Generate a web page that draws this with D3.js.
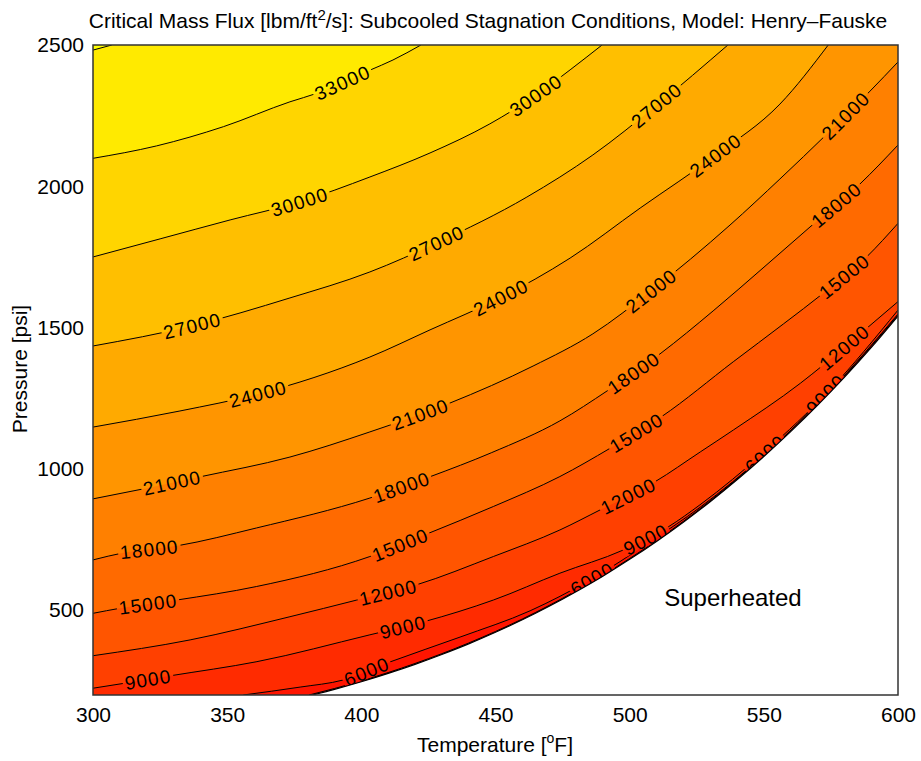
<!DOCTYPE html>
<html>
<head>
<meta charset="utf-8">
<script src="https://cdn.jsdelivr.net/npm/d3@7"></script>
<style>
  body { margin: 0; background: #fff; }
  text { font-family: "Liberation Sans", Arial, Helvetica, sans-serif; fill: #000; }
</style>
</head>
<body>
<svg width="921" height="761"></svg>
<script>
// axis ticks
var xTicks = [300, 350, 400, 450, 500, 550, 600];
var yTicks = [500, 1000, 1500, 2000, 2500];

// contour lines, [temperature F, pressure psi]
var c3000 = [[380.5,200],[390,223],[400,250],[420,311.5],[440,384],[460,469],[480,568.5],[500,683],[520,814.5],[540,964.5],[560,1135],[580,1327.5],[600,1544]];
var c6000 = [[356,200],[377.2,228],[393.2,253],[410.7,317],[436.8,405],[462.9,498],[485.2,607],[507.6,742],[526.2,864],[550.5,1053],[574.7,1276],[600,1548]];
var c9000 = [[300,224],[312.7,243],[328.8,268],[361.1,318],[403.2,413],[423.6,460],[449.2,536],[474,631],[497.6,713],[514.4,795],[526.2,873],[550.5,1062],[574.7,1281],[600,1562]];
var c12000 = [[300,339],[336.2,395],[373.4,477],[398.3,536],[420.6,590],[449.2,690],[474,784],[489,855],[509.5,955],[526.3,1060],[538.7,1138],[563.6,1303],[572.2,1368],[588.4,1498],[600,1592]];
var c15000 = [[300,489],[310.1,507],[331.2,536],[361,584],[403.2,690],[425,772],[449.2,867],[474,973],[492.7,1073],[511.9,1185],[538.6,1379],[557.3,1513],[572.2,1622],[588.4,1751],[600,1869]];
var c18000 = [[300,678],[311.3,703],[331.4,728],[360.9,791],[403.2,897],[425.5,972],[448.4,1057],[474,1170],[491.6,1276],[511.3,1407],[531.1,1559],[549.7,1711],[567.2,1856],[585.8,2008],[600,2146]];
var c21000 = [[300,894],[318.6,929],[339.9,972],[373.4,1042],[403.2,1131],[433,1233],[464,1364],[486.3,1478],[508,1630],[537.4,1863],[556,2026],[573.5,2185],[589.6,2337],[600,2440]];
var c24000 = [[300,1148],[332.4,1205],[361.5,1265],[403.2,1396],[425.6,1492],[451.7,1605],[477.8,1746],[503.9,1923],[532.2,2111],[556,2291],[574,2500]];
var c27000 = [[300,1435],[336.9,1506],[373.4,1605],[403.2,1697],[428.2,1800],[461.7,1962],[486.3,2111],[510.2,2288],[536.6,2500]];
var c30000 = [[300,1750],[325,1814],[351.1,1881],[377.1,1945],[403.2,2033],[425.6,2118],[447.9,2221],[464.7,2320],[477.8,2412],[489.7,2500]];
var c33000 = [[300,2099],[323.7,2143],[348.6,2211],[373.4,2299],[383.4,2329],[403.2,2411],[411.8,2447],[422.2,2500]];
var c36000 = [[300,2482],[307,2500]];

// saturation line bounding the superheated region
var saturation = [[381.8,200],[390,220],[400,247],[410,276.5],[420,308.5],[430,343.5],[440,381],[450,422],[460,466],[470,514],[480,565.5],[490,620.5],[500,680],[510,743.5],[520,811.5],[530,884],[540,961.5],[550,1044],[560,1132],[570,1225],[580,1324],[590,1429],[600,1541]];

// inline labels: [level, temperature where the label sits]
var contourLabels = [
  [33000,393],
  [30000,377],[30000,465],
  [27000,337],[27000,428],[27000,510],
  [24000,361.5],[24000,452],[24000,532],
  [21000,329.5],[21000,422],[21000,508],[21000,580.5],
  [18000,321],[18000,415],[18000,501.5],[18000,577],
  [15000,320.5],[15000,414.5],[15000,502.5],[15000,580],
  [12000,410],[12000,499.5],[12000,580],
  [9000,320.5],[9000,415.5],[9000,506],[9000,573],
  [6000,402],[6000,486],[6000,550.5]
];

var contours = [
  [3000,c3000],[6000,c6000],[9000,c9000],[12000,c12000],[15000,c15000],[18000,c18000],
  [21000,c21000],[24000,c24000],[27000,c27000],[30000,c30000],[33000,c33000],[36000,c36000]
];

var svg = d3.select("svg");

var x = d3.scaleLinear().domain([300, 600]).range([93, 898]);
var y = d3.scaleLinear().domain([200, 2500]).range([695, 45]);
var color = d3.scaleSequential(d3.interpolateRgb("#ff0000", "#ffff00")).domain([0, 36000]);

var line = d3.line()
    .x(function(d) { return x(d[0]); })
    .y(function(d) { return y(d[1]); })
    .curve(d3.curveMonotoneX);

var defs = svg.append("defs");
defs.append("clipPath").attr("id", "plotclip")
  .append("rect")
    .attr("x", x(300)).attr("y", y(2500))
    .attr("width", x(600) - x(300)).attr("height", y(200) - y(2500));

var mask = defs.append("mask").attr("id", "lblmask")
    .attr("maskUnits", "userSpaceOnUse")
    .attr("x", 0).attr("y", 0).attr("width", 921).attr("height", 761);
mask.append("rect").attr("width", 921).attr("height", 761).attr("fill", "#fff");

var plot = svg.append("g").attr("clip-path", "url(#plotclip)");

// region on the high side (upper left) of a contour line
function regionAbove(pts) {
  var first = pts[0], last = pts[pts.length - 1];
  var corners = [];
  if (last[0] >= 600 && last[1] < 2500) corners.push([600, 2500]);
  corners.push([300, 2500]);
  if (first[1] <= 200 && first[0] > 300) corners.push([300, 200]);
  return line(pts) + corners.map(function(p) { return "L" + x(p[0]) + "," + y(p[1]); }).join("") + "Z";
}

plot.append("rect")
    .attr("x", x(300)).attr("y", y(2500))
    .attr("width", x(600) - x(300)).attr("height", y(200) - y(2500))
    .attr("fill", color(0));

plot.selectAll("path.band")
  .data(contours)
  .enter().append("path")
    .attr("class", "band")
    .attr("d", function(d) { return regionAbove(d[1]); })
    .attr("fill", function(d) { return color(d[0]); });

var lines = plot.append("g").attr("mask", "url(#lblmask)");
var linePaths = {};
contours.forEach(function(c) {
  var p = lines.append("path")
      .attr("d", line(c[1]))
      .attr("fill", "none")
      .attr("stroke", "#000")
      .attr("stroke-width", 1);
  linePaths[c[0]] = p.node();
});

function lengthAtX(node, px) {
  var lo = 0, hi = node.getTotalLength();
  for (var i = 0; i < 40; i++) {
    var mid = (lo + hi) / 2;
    if (node.getPointAtLength(mid).x < px) lo = mid; else hi = mid;
  }
  return lo;
}

var labels = plot.append("g");
contourLabels.forEach(function(d) {
  var node = linePaths[d[0]];
  var s = lengthAtX(node, x(d[1]));
  var p = node.getPointAtLength(s),
      a = node.getPointAtLength(Math.max(0, s - 5)),
      b = node.getPointAtLength(Math.min(node.getTotalLength(), s + 5));
  var angle = Math.atan2(b.y - a.y, b.x - a.x) * 180 / Math.PI;
  var tf = "translate(" + p.x + "," + p.y + ") rotate(" + angle + ")";
  var t = labels.append("text")
      .attr("transform", tf)
      .attr("text-anchor", "middle")
      .attr("dy", "0.36em")
      .attr("font-size", 19)
      .attr("letter-spacing", 1.2)
      .text(d[0]);
  var bb = t.node().getBBox();
  mask.append("rect")
      .attr("transform", tf)
      .attr("x", bb.x - 2).attr("y", -7)
      .attr("width", bb.width + 4).attr("height", 14)
      .attr("fill", "#000");
});

// superheated region
plot.append("path")
    .attr("d", line(saturation) + "L" + x(600) + "," + y(200) + "Z")
    .attr("fill", "#fff");
plot.append("path")
    .attr("d", line(saturation))
    .attr("fill", "none")
    .attr("stroke", "#000")
    .attr("stroke-width", 1.2);

svg.append("text")
    .attr("x", 733).attr("y", 606)
    .attr("text-anchor", "middle")
    .attr("font-size", 24)
    .text("Superheated");

// frame
svg.append("rect")
    .attr("x", x(300)).attr("y", y(2500))
    .attr("width", x(600) - x(300)).attr("height", y(200) - y(2500))
    .attr("fill", "none")
    .attr("stroke", "#333")
    .attr("stroke-width", 1.5);

// axes
var xAxis = svg.append("g")
    .attr("transform", "translate(0," + y(200) + ")")
    .call(d3.axisBottom(x).tickValues(xTicks).tickFormat(d3.format("d")).tickSize(0).tickPadding(12));
var yAxis = svg.append("g")
    .attr("transform", "translate(" + x(300) + ",0)")
    .call(d3.axisLeft(y).tickValues(yTicks).tickFormat(d3.format("d")).tickSize(0).tickPadding(9));
[xAxis, yAxis].forEach(function(g) {
  g.select(".domain").remove();
  g.attr("font-family", null).attr("font-size", null);
  g.selectAll("text").attr("font-size", 21).attr("fill", "#000");
});

// titles
var title = svg.append("text")
    .attr("x", 488).attr("y", 28)
    .attr("text-anchor", "middle")
    .attr("font-size", 21);
title.append("tspan").text("Critical Mass Flux [lbm/ft");
title.append("tspan").attr("font-size", 15).attr("dy", -8).text("2");
title.append("tspan").attr("dy", 8).text("/s]: Subcooled Stagnation Conditions, Model: Henry\u2013Fauske");

var xLabel = svg.append("text")
    .attr("x", 495).attr("y", 752)
    .attr("text-anchor", "middle")
    .attr("font-size", 21);
xLabel.append("tspan").text("Temperature [");
xLabel.append("tspan").attr("font-size", 14).attr("dy", -9).text("o");
xLabel.append("tspan").attr("dy", 9).text("F]");

svg.append("text")
    .attr("transform", "translate(27,369) rotate(-90)")
    .attr("text-anchor", "middle")
    .attr("font-size", 21)
    .text("Pressure [psi]");
</script>
</body>
</html>
